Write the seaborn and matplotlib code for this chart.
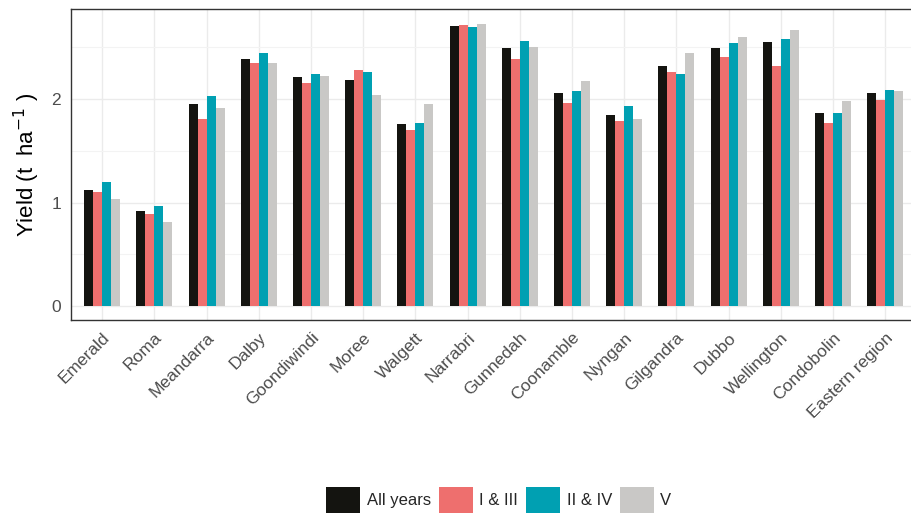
import numpy as np
import pandas as pd
import matplotlib.pyplot as plt
from matplotlib.ticker import MultipleLocator
import seaborn as sns

# site yields by period (t/ha)
sites = ['Emerald', 'Roma', 'Meandarra', 'Dalby', 'Goondiwindi', 'Moree', 'Walgett',
         'Narrabri', 'Gunnedah', 'Coonamble', 'Nyngan', 'Gilgandra', 'Dubbo',
         'Wellington', 'Condobolin', 'Eastern region']
all_years = [1.12, 0.92, 1.95, 2.39, 2.21, 2.18, 1.76, 2.71, 2.49, 2.06, 1.85, 2.32, 2.49, 2.55, 1.87, 2.06]
i_iii     = [1.10, 0.89, 1.81, 2.35, 2.16, 2.28, 1.70, 2.72, 2.39, 1.96, 1.79, 2.26, 2.41, 2.32, 1.77, 1.99]
ii_iv     = [1.20, 0.97, 2.03, 2.45, 2.24, 2.26, 1.77, 2.70, 2.56, 2.08, 1.93, 2.24, 2.54, 2.58, 1.87, 2.09]
v_period  = [1.03, 0.81, 1.91, 2.35, 2.22, 2.04, 1.95, 2.73, 2.50, 2.17, 1.81, 2.45, 2.60, 2.67, 1.98, 2.08]
periods = ['All years', 'I & III', 'II & IV', 'V']
colours = ['#141410', '#EE6F6E', '#00A0B2', '#C9C8C6']

df = pd.DataFrame({'site': sites, 'All years': all_years, 'I & III': i_iii,
                   'II & IV': ii_iv, 'V': v_period})
long = df.melt(id_vars='site', var_name='period', value_name='yield')

sns.set_style('white')
plt.rcParams['font.family'] = ['Liberation Sans', 'DejaVu Sans']

fig = plt.figure(figsize=(9.12, 5.14), dpi=100)
ax = fig.add_axes([0.0778, 0.377, 0.927, 0.605])

sns.barplot(data=long, x='site', y='yield', hue='period', hue_order=periods,
            palette=colours, width=0.69, gap=0, saturation=1, linewidth=0,
            errorbar=None, ax=ax, zorder=2)

ax.set_xlim(-0.6, len(sites) - 0.4)
ax.set_ylim(-0.137, 2.868)
ax.yaxis.set_major_locator(MultipleLocator(1))
ax.yaxis.set_minor_locator(MultipleLocator(0.5))
ax.grid(True, which='major', color='#ebebeb', lw=1.0, zorder=0)
ax.grid(True, which='minor', axis='y', color='#f3f3f3', lw=0.8, zorder=0)
ax.set_axisbelow(True)

for s in ax.spines.values():
    s.set_color('#333333')
    s.set_linewidth(1.0)

ax.tick_params(axis='both', which='major', length=4, width=1, color='#333333',
               labelcolor='#4d4d4d', labelsize=12.5, direction='out', pad=3)
ax.tick_params(axis='y', which='minor', length=0)
plt.setp(ax.get_xticklabels(), rotation=45, ha='right', rotation_mode='anchor')

ax.set_xlabel('')
ax.set_ylabel('Yield (t  ha$^{-1}$ )', fontsize=16, color='black', labelpad=7)

ax.legend_.remove()
fig.legend(*ax.get_legend_handles_labels(), loc='center', bbox_to_anchor=(0.547, 0.027),
           ncol=4, frameon=False, fontsize=12, handlelength=2.05, handleheight=2.0,
           handletextpad=0.4, columnspacing=0.45, borderaxespad=0)

fig.savefig('out.png', dpi=100)
